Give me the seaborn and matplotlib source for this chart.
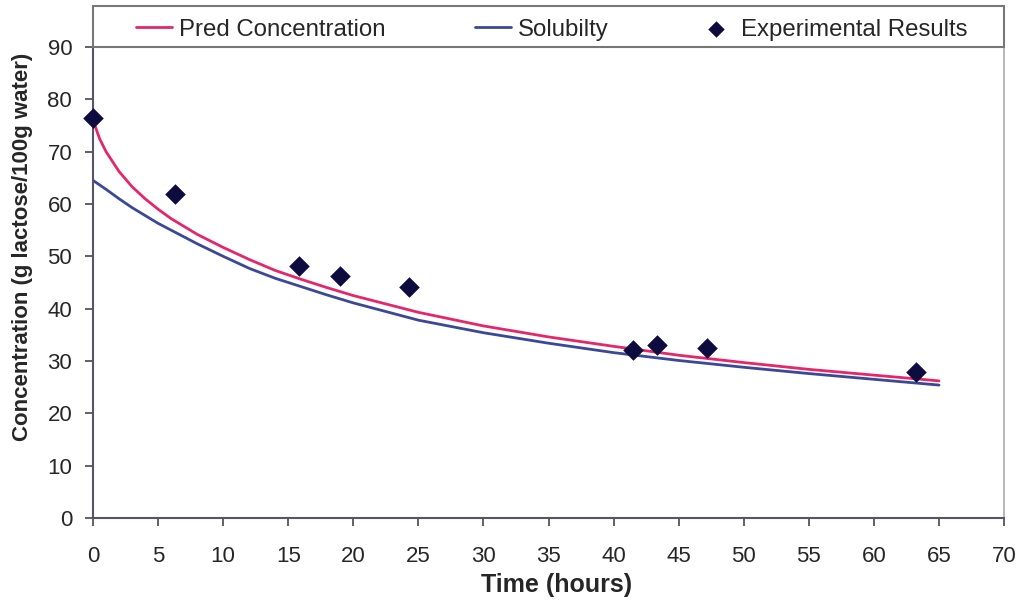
import numpy as np
import pandas as pd
import matplotlib
matplotlib.use("Agg")
import matplotlib.pyplot as plt
from matplotlib.patches import Rectangle
import seaborn as sns

# ---- data ----
pred_time = [0, 0.5, 1, 2, 3, 4, 5, 6, 8, 10, 12, 14, 16, 18, 20, 25, 30, 35, 40, 45, 50, 55, 60, 65]
pred_conc = [76, 72.5, 70, 66.2, 63.3, 61, 59, 57.2, 54.2, 51.7, 49.4, 47.3, 45.6, 44, 42.5,
             39.3, 36.7, 34.6, 32.8, 31.1, 29.7, 28.4, 27.3, 26.2]
sol_time = [0, 1, 2, 3, 4, 5, 6, 8, 10, 12, 14, 16, 18, 20, 25, 30, 35, 40, 45, 50, 55, 60, 65]
sol_conc = [64.5, 62.8, 61, 59.3, 57.8, 56.3, 55, 52.4, 50, 47.7, 45.8, 44.2, 42.6, 41.1,
            37.8, 35.4, 33.4, 31.6, 30.1, 28.8, 27.6, 26.5, 25.4]
exp_time = [0, 6.3, 15.8, 19.0, 24.3, 41.5, 43.3, 47.2, 63.2]
exp_conc = [76.5, 62.0, 48.2, 46.2, 44.2, 32.1, 33.1, 32.5, 27.9]

x_ticks = list(range(0, 75, 5))
y_ticks = list(range(0, 100, 10))

sns.set_style("ticks")
plt.rcParams['font.family'] = ['Liberation Sans', 'DejaVu Sans']

fig = plt.figure(figsize=(10.2, 6.02), dpi=100)
ax = fig.add_axes([0.0912, 0.1395, 0.8932, 0.7825])

pred_df = pd.DataFrame({"t": pred_time, "c": pred_conc})
sol_df = pd.DataFrame({"t": sol_time, "c": sol_conc})
exp_df = pd.DataFrame({"t": exp_time, "c": exp_conc})

sns.lineplot(data=pred_df, x="t", y="c", ax=ax, color="#e5266a", linewidth=2,
             label="Pred Concentration", zorder=2)
sns.lineplot(data=sol_df, x="t", y="c", ax=ax, color="#3b4898", linewidth=2,
             label="Solubilty", zorder=2)
sns.scatterplot(data=exp_df, x="t", y="c", ax=ax, marker="D", s=110, color="#0e0b3e",
                edgecolor="#0e0b3e", linewidth=0, label="Experimental Results", zorder=3,
                clip_on=False)

ax.set_xlim(0, 70)
ax.set_ylim(0, 90)
ax.set_xticks(x_ticks)
ax.set_yticks(y_ticks)
ax.tick_params(axis="x", direction="out", length=6, width=1.3, color="#555555",
               labelsize=16, pad=14)
ax.tick_params(axis="y", direction="out", length=6, width=1.3, color="#555555",
               labelsize=16, pad=9)

for side in ["left", "bottom"]:
    ax.spines[side].set_color("#555566")
    ax.spines[side].set_linewidth(1.5)
ax.spines["right"].set_color("#aaaaaa")
ax.spines["right"].set_linewidth(1.2)
ax.spines["top"].set_visible(False)

ax.set_xlabel("Time (hours)", fontsize=18, fontweight="bold")
ax.set_ylabel("Concentration (g lactose/100g water)", fontsize=16, fontweight="bold")
ax.xaxis.set_label_coords(0.509, -0.116)
ax.yaxis.set_label_coords(-0.066, 0.576)

# legend frame across the top of the plot
frame_h = 41 / 471
ax.add_patch(Rectangle((0, 1), 1, frame_h, transform=ax.transAxes, fill=True,
                       facecolor="white", edgecolor="#777777", linewidth=1.5,
                       clip_on=False, zorder=5))

handles, labels = ax.get_legend_handles_labels()
leg = ax.legend(handles, labels, ncol=3, mode="expand", loc="center left",
                bbox_to_anchor=(0.047, 0.993, 0.913, frame_h), borderaxespad=0,
                frameon=False, fontsize=17.3, handlelength=1.5,
                handletextpad=0.3, borderpad=0.0, markerscale=0.8)
leg.set_zorder(6)

fig.savefig("out.png", dpi=100, facecolor="white")
